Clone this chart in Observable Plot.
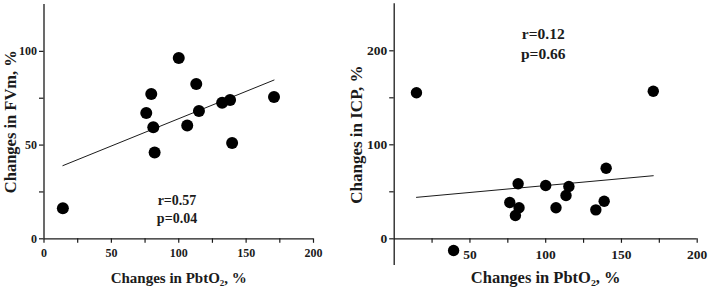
<!DOCTYPE html>
<html>
<head>
<meta charset="utf-8">
<script src="https://cdn.jsdelivr.net/npm/d3@7"></script>
<script src="https://cdn.jsdelivr.net/npm/@observablehq/plot@0.6"></script>
<style>
  html, body { margin: 0; padding: 0; background: #fff; }
  #wrap { display: flex; flex-direction: row; width: 709px; height: 302px; }
</style>
</head>
<body>
<div id="wrap"></div>
<script>
// ---- Data ----
// Left panel: Changes in PbtO2 (%) vs Changes in FVm (%)
const fvmPbto2 = [14, 100, 113, 79.6, 75.9, 81.1, 82.1, 106.3, 115, 132.2, 138.1, 139.6, 170.7];
const fvmValues = [16.3, 96.4, 82.6, 77.2, 67.1, 59.5, 46.1, 60.4, 68.2, 72.6, 74, 51.1, 75.6];
const fvmStats = ["r=0.57", "p=0.04"];

// Right panel: Changes in PbtO2 (%) vs Changes in ICP (%)
const icpPbto2 = [14.7, 171, 39.2, 81.8, 100, 115.3, 139.9, 76.3, 82.4, 80, 106.8, 113.4, 133.1, 138.6];
const icpValues = [155.3, 157, -12.4, 58.5, 56.7, 55.6, 75.1, 38.6, 33, 24.8, 33, 46.1, 30.8, 40];
const icpStats = ["r=0.12", "p=0.66"];

// Axis ticks / labels
const xTitle = "Changes in PbtO\u2082, %";
const leftYTitle = "Changes in FVm, %";
const rightYTitle = "Changes in ICP, %";
const leftXTicks = [0, 25, 50, 75, 100, 125, 150, 175, 200];
const leftXLabels = [0, 50, 100, 150, 200];
const leftYTicks = [0, 25, 50, 75, 100];
const leftYLabels = [0, 50, 100];
const rightXTicks = [25, 50, 75, 100, 125, 150, 175, 200];
const rightXLabels = [50, 100, 150, 200];
const rightYTicks = [0, 50, 100, 150, 200];
const rightYLabels = [0, 100, 200];

const INK = "#1b1b1b";
const FONT = "'Liberation Serif', 'Times New Roman', serif";

function panel(cfg) {
  const data = cfg.xs.map((x, i) => ({x, y: cfg.ys[i]}));
  return Plot.plot({
    width: cfg.width,
    height: 302,
    marginLeft: cfg.ml,
    marginRight: cfg.mr,
    marginTop: cfg.mt,
    marginBottom: cfg.mb,
    x: {domain: [0, 200], axis: null},
    y: {domain: cfg.ydomain, axis: null},
    style: {fontFamily: FONT, fontWeight: "bold", color: INK, background: "#fff", overflow: "visible"},
    marks: [
      // axis lines
      Plot.ruleY([0], {stroke: INK, strokeWidth: 1.3}),
      Plot.ruleX([0], {stroke: INK, strokeWidth: 1.3}),
      // x ticks (pointing down)
      Plot.ruleX(cfg.xTicks, {x: d => d, y1: 0, y2: 0, insetBottom: -4.5, stroke: INK, strokeWidth: 1.2}),
      // y ticks (pointing left)
      Plot.ruleY(cfg.yTicks, {y: d => d, x1: 0, x2: 0, insetLeft: -4.5, stroke: INK, strokeWidth: 1.2}),
      // tick labels
      Plot.text(cfg.xLabels, {x: d => d, y: 0, dy: cfg.xLabDy, text: d => String(d), fontSize: cfg.tickFs, fill: INK, fontWeight: "bold"}),
      Plot.text(cfg.yLabels, {x: 0, y: d => d, dx: -7, text: d => String(d), textAnchor: "end", fontSize: cfg.tickFs, fill: INK, fontWeight: "bold"}),
      // axis titles
      Plot.text([xTitle], {x: 100, y: 0, dy: 39, text: d => d, textAnchor: "middle", fontSize: cfg.titleFs, fill: INK, fontWeight: "bold"}),
      Plot.text([cfg.yTitle], {frameAnchor: "left", textAnchor: "middle", dx: cfg.yTitleDx, rotate: -90, text: d => d, fontSize: cfg.yTitleFs, fill: INK, fontWeight: "bold"}),
      // regression line
      Plot.linearRegressionY(data, {x: "x", y: "y", ci: 0, stroke: INK, strokeWidth: 1}),
      // points
      Plot.dot(data, {x: "x", y: "y", r: cfg.r, fill: "#000", stroke: "none"}),
      // stats annotation
      Plot.text([cfg.stats[0]], {x: cfg.statX, y: cfg.statY[0], text: d => d, fontSize: cfg.statFs, fill: INK, fontWeight: "bold"}),
      Plot.text([cfg.stats[1]], {x: cfg.statX, y: cfg.statY[1], text: d => d, fontSize: cfg.statFs, fill: INK, fontWeight: "bold"})
    ]
  });
}

const left = panel({
  width: 345, ml: 43.5, mr: 32, mt: 4, mb: 63.7,
  ydomain: [0, 125],
  xs: fvmPbto2, ys: fvmValues, stats: fvmStats,
  xTicks: leftXTicks, xLabels: leftXLabels, yTicks: leftYTicks, yLabels: leftYLabels,
  yTitle: leftYTitle,
  tickFs: 12, titleFs: 15, yTitleFs: 16.5, statFs: 14, r: 6,
  xLabDy: 14.5, yTitleDx: -33.5,
  statX: 98.7, statY: [20.4, 10.8]
});

const right = panel({
  width: 364, ml: 48.7, mr: 12.3, mt: 3.3, mb: 37,
  ydomain: [-28.4, 250],
  xs: icpPbto2, ys: icpValues, stats: icpStats,
  xTicks: rightXTicks, xLabels: rightXLabels, yTicks: rightYTicks, yLabels: rightYLabels,
  yTitle: rightYTitle,
  tickFs: 13.5, titleFs: 16.5, yTitleFs: 17, statFs: 15.5, r: 5.7,
  xLabDy: 16, yTitleDx: -38,
  statX: 98.4, statY: [218, 196.8]
});

document.getElementById("wrap").append(left, right);
</script>
</body>
</html>
